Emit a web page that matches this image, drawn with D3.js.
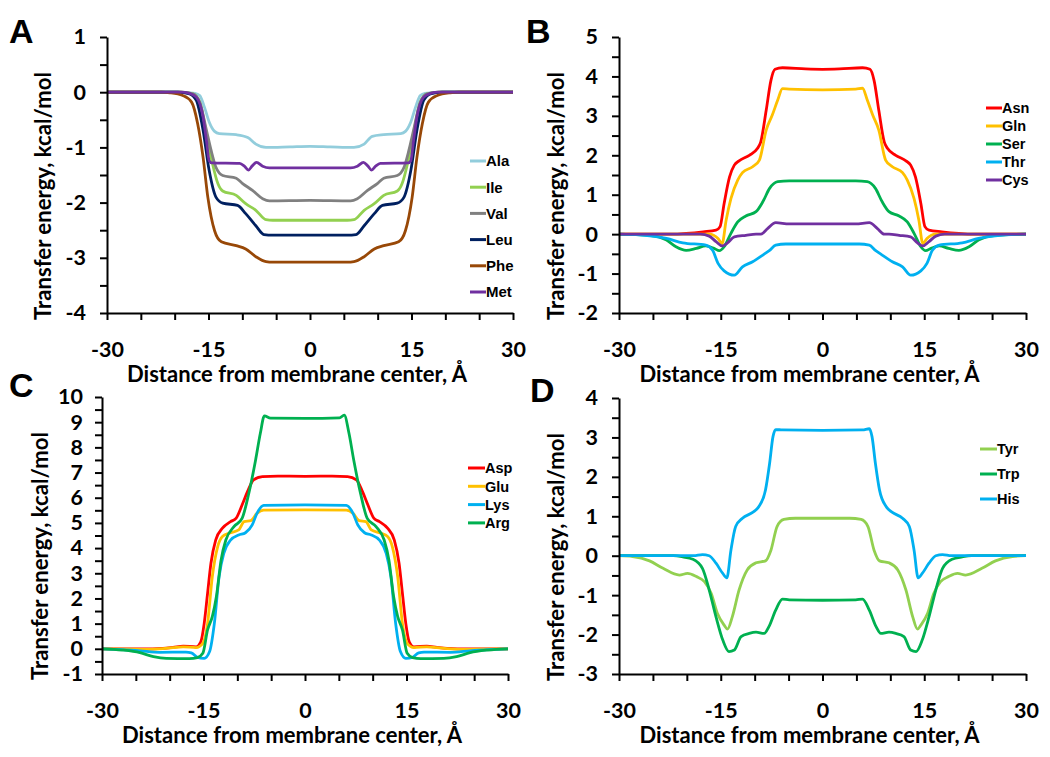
<!DOCTYPE html>
<html><head><meta charset="utf-8">
<script src="https://cdn.jsdelivr.net/npm/d3@7"></script>
<style>body{margin:0;background:#fff}svg{display:block}</style>
</head><body>
<svg id="chart" width="1050" height="757"></svg>
<script>
// ---------------- DATA ----------------
const xTickValues = [-30,-25,-20,-15,-10,-5,0,5,10,15,20,25,30];
const xTickLabels = [-30,-15,0,15,30];
const xTitle = "Distance from membrane center, Å";
const yTitle = "Transfer energy, kcal/mol";

// Panel A
const namesA = ["Ala","Ile","Val","Leu","Phe","Met"];
const colorsA = ["#92CDDC","#92D050","#808080","#002060","#984807","#7030A0"];
const ala = [[-30,0],[-20,0],[-18,-0.01],[-17,-0.02],[-16.3,-0.06],[-15.6,-0.27],[-14.9,-0.54],[-14.1,-0.71],[-13.4,-0.75],[-10.9,-0.77],[-9.2,-0.82],[-8.0,-0.94],[-6.5,-1.0],[-3,-0.99],[0,-0.98],[3,-0.99],[6.5,-1.0],[8.0,-0.94],[9.2,-0.8],[10.9,-0.77],[13.4,-0.75],[14.1,-0.71],[14.9,-0.54],[15.6,-0.27],[16.3,-0.06],[17,-0.02],[18,-0.01],[20,0],[30,0]];
const ile = [[-30,0],[-19,0],[-17.3,-0.03],[-16.3,-0.18],[-15.3,-0.75],[-14.4,-1.30],[-13.6,-1.66],[-12.9,-1.79],[-10.9,-1.87],[-9.5,-2.02],[-8.0,-2.14],[-6.5,-2.31],[-5.5,-2.32],[0,-2.32],[5.5,-2.32],[6.5,-2.31],[8.0,-2.14],[9.5,-2.02],[10.9,-1.87],[12.9,-1.79],[13.6,-1.66],[14.4,-1.30],[15.3,-0.75],[16.3,-0.18],[17.3,-0.03],[19,0],[30,0]];
const val = [[-30,0],[-19,0],[-17.3,-0.03],[-16.3,-0.18],[-15.3,-0.69],[-14.6,-1.06],[-13.9,-1.36],[-12.9,-1.51],[-10.9,-1.56],[-10.0,-1.65],[-8.5,-1.78],[-7.0,-1.93],[-6.0,-1.97],[0,-1.96],[6.0,-1.97],[7.0,-1.93],[8.5,-1.78],[10.0,-1.65],[10.9,-1.56],[12.9,-1.51],[13.9,-1.36],[14.6,-1.06],[15.3,-0.69],[16.3,-0.18],[17.3,-0.03],[19,0],[30,0]];
const leu = [[-30,0],[-19.5,0],[-17.8,-0.03],[-16.8,-0.15],[-15.8,-0.69],[-14.9,-1.42],[-13.9,-1.90],[-12.9,-2.01],[-10.7,-2.05],[-9.5,-2.20],[-8.0,-2.42],[-6.8,-2.58],[-5.5,-2.59],[0,-2.59],[5.5,-2.59],[6.8,-2.58],[8.0,-2.42],[9.5,-2.20],[10.7,-2.05],[12.9,-2.01],[13.9,-1.90],[14.9,-1.42],[15.8,-0.69],[16.8,-0.15],[17.8,-0.03],[19.5,0],[30,0]];
const phe = [[-30,0],[-22,0],[-20.7,-0.01],[-18.8,-0.06],[-17.5,-0.18],[-16.6,-0.57],[-15.8,-1.18],[-15.1,-1.90],[-14.1,-2.51],[-13.1,-2.71],[-10.9,-2.78],[-9.5,-2.84],[-8.0,-2.98],[-6.5,-3.07],[-5.5,-3.08],[0,-3.08],[5.5,-3.08],[6.5,-3.07],[8.0,-2.98],[9.5,-2.84],[10.9,-2.78],[13.1,-2.71],[14.1,-2.51],[15.1,-1.90],[15.8,-1.18],[16.6,-0.57],[17.5,-0.18],[18.8,-0.06],[20.7,-0.01],[22,0],[30,0]];
const met = [[-30,0],[-19,0],[-17.8,-0.02],[-16.8,-0.09],[-15.8,-0.45],[-15.3,-0.88],[-14.9,-1.24],[-14.5,-1.28],[-10.4,-1.29],[-9.7,-1.34],[-9.1,-1.41],[-8.5,-1.33],[-7.9,-1.27],[-7.0,-1.34],[-6.0,-1.37],[0,-1.37],[6.0,-1.37],[7.0,-1.34],[7.9,-1.27],[8.5,-1.33],[9.1,-1.41],[9.7,-1.34],[10.4,-1.29],[14.5,-1.28],[14.9,-1.24],[15.3,-0.88],[15.8,-0.45],[16.8,-0.09],[17.8,-0.02],[19,0],[30,0]];

// Panel B
const namesB = ["Asn","Gln","Ser","Thr","Cys"];
const colorsB = ["#FF0000","#FFC000","#00B050","#00B0F0","#7030A0"];
const asn = [[-30,0],[-22,0],[-20.1,0.02],[-17.6,0.06],[-15.7,0.10],[-15.1,0.19],[-14.5,0.78],[-13.7,1.45],[-13.0,1.75],[-12.3,1.86],[-10.8,2.0],[-9.6,2.17],[-9.1,2.34],[-8.3,3.14],[-7.6,3.9],[-7.0,4.18],[-5.9,4.22],[-2.5,4.19],[0,4.18],[2.5,4.19],[5.9,4.22],[7.0,4.18],[7.6,3.9],[8.3,3.14],[9.1,2.34],[9.6,2.17],[10.8,2.0],[12.3,1.86],[13.0,1.75],[13.7,1.45],[14.5,0.78],[15.1,0.19],[15.7,0.10],[17.6,0.06],[20.1,0.02],[22,0],[30,0]];
const gln = [[-30,0],[-18,0],[-16.7,0],[-15.4,-0.11],[-14.8,-0.24],[-14.2,0.36],[-13.5,0.9],[-12.5,1.37],[-11.8,1.56],[-10.3,1.71],[-9.3,1.88],[-8.3,2.64],[-7.4,3.02],[-6.6,3.4],[-5.9,3.69],[-4.9,3.68],[0,3.66],[4.9,3.68],[5.9,3.70],[6.6,3.4],[7.4,3.02],[8.3,2.64],[9.3,1.88],[10.3,1.71],[11.8,1.56],[12.5,1.37],[13.5,0.9],[14.2,0.36],[14.8,-0.24],[15.4,-0.11],[16.7,0],[18,0],[30,0]];
const ser = [[-30,0],[-28,-0.01],[-25.5,-0.03],[-23,-0.15],[-21.6,-0.32],[-20.1,-0.41],[-18.6,-0.36],[-17.2,-0.30],[-16.0,-0.36],[-15.2,-0.42],[-14.5,-0.32],[-13.5,0.02],[-12.5,0.31],[-11.3,0.46],[-9.8,0.57],[-8.8,0.82],[-7.8,1.16],[-6.6,1.33],[-4.9,1.35],[0,1.35],[4.9,1.35],[6.6,1.33],[7.8,1.16],[8.8,0.82],[9.8,0.57],[11.3,0.46],[12.5,0.31],[13.5,0.02],[14.5,-0.32],[15.2,-0.42],[16.0,-0.36],[17.2,-0.30],[18.6,-0.36],[20.1,-0.41],[21.6,-0.32],[23,-0.15],[25.5,-0.03],[28,-0.01],[30,0]];
const thr = [[-30,0],[-27,-0.02],[-23,-0.11],[-20.6,-0.22],[-17.2,-0.28],[-16.2,-0.41],[-15.4,-0.74],[-14.5,-0.93],[-13.0,-1.04],[-11.8,-0.83],[-10.3,-0.70],[-8.8,-0.53],[-7.8,-0.41],[-6.9,-0.28],[-5.4,-0.25],[0,-0.25],[5.4,-0.25],[6.9,-0.28],[7.8,-0.41],[8.8,-0.53],[10.3,-0.70],[11.8,-0.83],[13.0,-1.04],[14.5,-0.93],[15.4,-0.74],[16.2,-0.41],[17.2,-0.28],[20.6,-0.22],[23,-0.11],[27,-0.02],[30,0]];
const cys = [[-30,0],[-18,0],[-16.7,-0.05],[-15.7,-0.19],[-14.8,-0.30],[-14.0,-0.22],[-13.0,-0.07],[-11.3,-0.03],[-9.8,0.0],[-9.1,0.0],[-8.1,0.14],[-6.9,0.29],[-4.9,0.26],[0,0.26],[4.9,0.26],[6.9,0.29],[8.1,0.14],[9.1,0.0],[9.8,0.0],[11.3,-0.03],[13.0,-0.07],[14.0,-0.22],[14.8,-0.30],[15.7,-0.19],[16.7,-0.05],[18,0],[30,0]];

// Panel C
const namesC = ["Asp","Glu","Lys","Arg"];
const colorsC = ["#FF0000","#FFC000","#00B0F0","#00B050"];
const asp = [[-30,0],[-24,0],[-21,0.02],[-19.5,0.06],[-18,0.11],[-16.1,0.08],[-15.4,0.28],[-14.9,1.0],[-14.4,2.2],[-13.9,3.4],[-13.2,4.32],[-12.2,4.79],[-11.0,5.05],[-10.2,5.18],[-9.3,5.71],[-8.5,6.24],[-7.6,6.71],[-6.3,6.84],[-4,6.86],[0,6.85],[4,6.86],[6.3,6.84],[7.6,6.71],[8.5,6.24],[9.3,5.71],[10.2,5.18],[11.0,5.05],[12.2,4.79],[13.2,4.32],[13.9,3.4],[14.4,2.2],[14.9,1.0],[15.4,0.28],[16.1,0.08],[18,0.11],[19.5,0.06],[21,0.02],[24,0],[30,0]];
const glu = [[-30,0],[-26,-0.01],[-24.4,-0.02],[-21.5,0],[-19.5,0.05],[-18,0.08],[-16.1,0.05],[-15.1,0.22],[-14.4,1.0],[-13.7,2.86],[-12.9,4.06],[-12.2,4.46],[-11.2,4.59],[-9.8,4.72],[-9.0,5.05],[-8.0,5.09],[-7.1,5.38],[-6.1,5.51],[0,5.52],[6.1,5.51],[7.1,5.38],[8.0,5.09],[9.0,5.05],[9.8,4.72],[11.2,4.59],[12.2,4.46],[12.9,4.06],[13.7,2.86],[14.4,1.0],[15.1,0.22],[16.1,0.05],[18,0.08],[19.5,0.05],[21.5,0],[24.4,-0.02],[26,-0.01],[30,0]];
const lys = [[-30,0],[-27,-0.03],[-24.4,-0.08],[-21.5,-0.14],[-17.6,-0.13],[-16.8,-0.16],[-15.9,-0.34],[-14.9,-0.38],[-14.1,-0.11],[-13.4,1.0],[-12.7,2.86],[-12.0,3.79],[-11.0,4.32],[-9.8,4.52],[-8.8,4.61],[-7.8,4.92],[-7.1,5.38],[-6.1,5.70],[0,5.72],[6.1,5.70],[7.1,5.38],[7.8,4.92],[8.8,4.61],[9.8,4.52],[11.0,4.32],[12.0,3.79],[12.7,2.86],[13.4,1.0],[14.1,-0.11],[14.9,-0.38],[15.9,-0.34],[16.8,-0.16],[17.6,-0.13],[21.5,-0.14],[24.4,-0.08],[27,-0.03],[30,0]];
const arg = [[-30,0],[-27,-0.05],[-24.4,-0.15],[-22.4,-0.31],[-20.5,-0.38],[-17.1,-0.39],[-15.9,-0.35],[-15.1,-0.18],[-14.4,0.75],[-13.7,1.28],[-13.1,2.07],[-12.4,3.53],[-11.7,4.32],[-10.5,4.85],[-9.3,5.18],[-8.3,6.18],[-7.3,7.5],[-6.6,8.56],[-6.0,9.25],[-5.1,9.16],[0,9.15],[5.1,9.17],[5.8,9.28],[6.5,8.56],[7.2,7.5],[8.2,6.18],[9.2,5.18],[10.5,4.85],[11.7,4.32],[12.4,3.53],[13.1,2.07],[13.7,1.28],[14.4,0.75],[15.1,-0.18],[15.9,-0.35],[17.1,-0.39],[20.5,-0.38],[22.4,-0.31],[24.4,-0.15],[27,-0.05],[30,0]];

// Panel D
const namesD = ["Tyr","Trp","His"];
const colorsD = ["#92D050","#00B050","#00B0F0"];
const tyr = [[-30,0],[-28,-0.02],[-25.5,-0.13],[-23.5,-0.32],[-21.1,-0.49],[-19.9,-0.45],[-18.6,-0.53],[-17.4,-0.66],[-16.4,-0.96],[-15.5,-1.46],[-14.5,-1.76],[-14.0,-1.86],[-13.3,-1.55],[-12.3,-0.87],[-11.1,-0.36],[-9.8,-0.18],[-8.4,-0.13],[-7.6,0.14],[-6.7,0.74],[-5.7,0.92],[-4.0,0.95],[0,0.95],[4.0,0.95],[5.7,0.92],[6.7,0.74],[7.6,0.14],[8.4,-0.13],[9.8,-0.18],[11.1,-0.36],[12.3,-0.87],[13.3,-1.55],[14.0,-1.86],[14.5,-1.76],[15.5,-1.46],[16.4,-0.96],[17.4,-0.66],[18.6,-0.53],[19.9,-0.45],[21.1,-0.49],[23.5,-0.32],[25.5,-0.13],[28,-0.02],[30,0]];
const trp = [[-30,0],[-22,0],[-20.6,-0.03],[-19.1,-0.09],[-17.7,-0.32],[-16.7,-0.87],[-15.7,-1.55],[-14.7,-2.14],[-13.8,-2.43],[-13.0,-2.39],[-12.0,-2.05],[-10.8,-1.97],[-9.8,-1.94],[-8.6,-1.97],[-7.9,-1.8],[-6.9,-1.38],[-5.9,-1.1],[-4.9,-1.12],[0,-1.13],[4.9,-1.12],[5.9,-1.1],[6.9,-1.38],[7.9,-1.8],[8.6,-1.97],[9.8,-1.94],[10.8,-1.97],[12.0,-2.05],[13.0,-2.39],[13.8,-2.43],[14.7,-2.14],[15.7,-1.55],[16.7,-0.87],[17.7,-0.32],[19.1,-0.09],[20.6,-0.03],[22,0],[30,0]];
const his = [[-30,0],[-19,0],[-17.7,0.03],[-16.7,0.0],[-15.7,-0.19],[-14.7,-0.45],[-14.1,-0.56],[-13.5,0.14],[-12.8,0.74],[-11.8,0.95],[-10.3,1.1],[-9.4,1.24],[-8.4,1.67],[-7.8,2.34],[-7.3,3.02],[-6.9,3.2],[-5.9,3.19],[0,3.18],[5.9,3.19],[6.9,3.22],[7.3,3.02],[7.8,2.34],[8.4,1.67],[9.4,1.24],[10.3,1.1],[11.8,0.95],[12.8,0.74],[13.5,0.14],[14.1,-0.56],[14.7,-0.45],[15.7,-0.19],[16.7,0.0],[17.7,0.03],[19,0],[30,0]];

// ---------------- LAYOUT ----------------
const panels = [
  {letter:"A", lx:9, ly:43, L:107, R:513, T:37, B:313, yDom:[-4,1], names:namesA, colors:colorsA, series:[ala,ile,val,leu,phe,met],
   leg:{x1:470, x2:486, y0:161, dy:26.2, fs:15}, yPad:14, yTitleX:51, yTitleCY:196},
  {letter:"B", lx:526, ly:43, L:619, R:1026, T:37, B:313, yDom:[-2,5], names:namesB, colors:colorsB, series:[asn,gln,ser,thr,cys],
   leg:{x1:986, x2:1002, y0:108, dy:18, fs:14.5}, yPad:14, yTitleX:564, yTitleCY:196},
  {letter:"C", lx:9, ly:397, L:102, R:508, T:397, B:674, yDom:[-1,10], names:namesC, colors:colorsC, series:[asp,glu,lys,arg],
   leg:{x1:468, x2:485, y0:468, dy:18.3, fs:14.5}, yPad:12, yTitleX:48, yTitleCY:556},
  {letter:"D", lx:530, ly:402, L:619, R:1026, T:398, B:674, yDom:[-3,4], names:namesD, colors:colorsD, series:[tyr,trp,his],
   leg:{x1:980, x2:997, y0:449, dy:25, fs:14.5}, yPad:14, yTitleX:564, yTitleCY:557}
];

const svg = d3.select("#chart");
const FONT = "Lato, 'Open Sans', sans-serif";

function fitText(sel, target) {
  const w = sel.node().getComputedTextLength();
  const fs = parseFloat(sel.attr("font-size"));
  sel.attr("font-size", (fs * target / w).toFixed(2));
}

panels.forEach(p => {
  const g = svg.append("g");
  const x = d3.scaleLinear().domain([-30,30]).range([p.L,p.R]);
  const y = d3.scaleLinear().domain(p.yDom).range([p.B,p.T]);

  // curves
  const line = d3.line().x(d=>x(d[0])).y(d=>y(d[1])).curve(d3.curveMonotoneX);
  p.series.forEach((s,i)=>{
    g.append("path").datum(s).attr("d",line).attr("fill","none")
      .attr("stroke",p.colors[i]).attr("stroke-width",2.8).attr("stroke-linejoin","round");
  });

  // x axis
  const xa = d3.axisBottom(x).tickValues(xTickValues)
    .tickFormat(d => xTickLabels.includes(d) ? String(d) : "")
    .tickSize(7).tickSizeOuter(0).tickPadding(22);
  const gx = g.append("g").attr("transform",`translate(0,${p.B})`).call(xa);
  // y axis
  const yv = d3.range(p.yDom[0], p.yDom[1]+0.001, 0.5);
  const ya = d3.axisLeft(y).tickValues(yv)
    .tickFormat(d => Number.isInteger(d) ? String(d) : "")
    .tickSize(7).tickSizeOuter(0).tickPadding(p.yPad);
  const gy = g.append("g").attr("transform",`translate(${p.L},0)`).call(ya);
  [gx,gy].forEach(a=>{
    a.select(".domain").attr("stroke","#000").attr("stroke-width",2);
    a.selectAll(".tick line").attr("stroke","#000").attr("stroke-width",2);
    a.selectAll(".tick text").attr("fill","#000").attr("font-family",FONT)
      .attr("font-weight",700).attr("font-size",21.5);
  });

  // axis titles
  const xt = g.append("text").attr("x",(p.L+p.R)/2-13).attr("y",p.B+69)
    .attr("text-anchor","middle").attr("font-family",FONT).attr("font-weight",700)
    .attr("font-size",20).text(xTitle);
  fitText(xt, 340);
  const yt = g.append("text").attr("transform",`translate(${p.yTitleX},${p.yTitleCY}) rotate(-90)`)
    .attr("text-anchor","middle").attr("font-family",FONT).attr("font-weight",700)
    .attr("font-size",20).text(yTitle);
  fitText(yt, 248);

  // legend
  p.names.forEach((n,i)=>{
    const yy = p.leg.y0 + i*p.leg.dy;
    g.append("line").attr("x1",p.leg.x1).attr("x2",p.leg.x2).attr("y1",yy).attr("y2",yy)
      .attr("stroke",p.colors[i]).attr("stroke-width",3);
    g.append("text").attr("x",p.leg.x2).attr("y",yy).attr("dy","0.36em")
      .attr("font-family","'Liberation Sans', Arial, sans-serif").attr("font-weight",700)
      .attr("font-size",p.leg.fs).attr("fill","#000").text(n);
  });

  // panel letter
  g.append("text").attr("x",p.lx).attr("y",p.ly).attr("font-family","'Liberation Sans', Arial, sans-serif")
    .attr("font-weight",700).attr("font-size",34).text(p.letter);
});
</script>
</body></html>
